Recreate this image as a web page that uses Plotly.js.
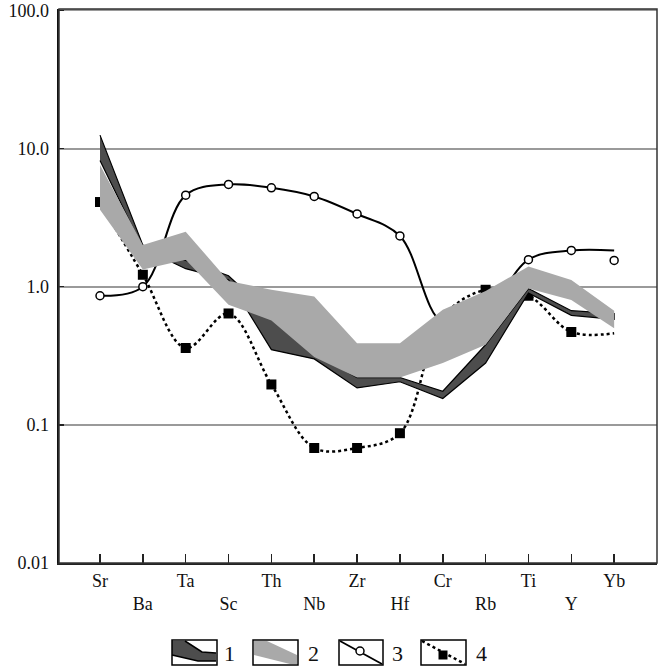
<!DOCTYPE html>
<html>
<head>
<meta charset="utf-8">
<script src="https://cdn.plot.ly/plotly-3.0.1.min.js"></script>
<style>html,body{margin:0;padding:0;background:#fff;}#chart{width:659px;height:668px;}</style>
</head>
<body>
<div id="chart"></div>
<script>
// Categories (x) and tick labels
const categories = ['Sr','Ba','Ta','Sc','Th','Nb','Zr','Hf','Cr','Rb','Ti','Y','Yb'];
const yTickVals = [0.01, 0.1, 1, 10, 100];
const yTickText = ['0.01', '0.1', '1.0', '10.0', '100.0'];

// Series 1: dark band (upper / lower bounds)
const band1Upper = [12.5, 2.0, 1.55, 1.2, 0.62, 0.33, 0.22, 0.22, 0.175, 0.38, 0.97, 0.67, 0.64];
const band1Lower = [8.2, 1.9, 1.35, 1.12, 0.35, 0.30, 0.185, 0.205, 0.155, 0.28, 0.90, 0.62, 0.58];

// Series 2: light band (upper / lower bounds)
const band2Upper = [7.6, 2.0, 2.5, 1.1, 0.95, 0.85, 0.39, 0.39, 0.68, 0.93, 1.4, 1.12, 0.67];
const band2Lower = [3.6, 1.33, 1.57, 0.74, 0.57, 0.31, 0.22, 0.22, 0.28, 0.38, 0.97, 0.80, 0.50];

// Series 3: open circles, smoothed solid line
const series3Line = [0.86, 1.0, 4.6, 5.5, 5.2, 4.5, 3.36, 2.33, 0.55, 0.65, 1.57, 1.83, 1.83];
const series3Points = [0.86, 1.0, 4.6, 5.5, 5.2, 4.5, 3.36, 2.33, null, null, 1.57, 1.83, 1.55];

// Series 4: filled squares, dotted smoothed line
const series4 = [4.1, 1.22, 0.36, 0.64, 0.196, 0.068, 0.068, 0.087, 0.6, 0.95, 0.86, 0.47, 0.46];
const series4MarkerShown = [1, 1, 1, 1, 1, 1, 1, 1, 0, 1, 1, 1, 0];

const idx = categories.map((c, i) => i);
const idxRev = idx.slice().reverse();
const FONT = "'Liberation Serif', 'Times New Roman', serif";

const traces = [
  { x: idx, y: series3Line, mode: 'lines', line: {color: '#000', width: 2, shape: 'spline', smoothing: 1}, hoverinfo: 'skip', showlegend: false },
  { x: idx, y: series3Points, mode: 'markers', marker: {symbol: 'circle', size: 8, color: '#fff', line: {color: '#000', width: 1.5}}, hoverinfo: 'skip', showlegend: false },
  { x: idx, y: series4, mode: 'lines+markers', line: {color: '#000', width: 2.5, dash: 'dot', shape: 'spline', smoothing: 1},
    marker: {symbol: 'square', size: 10, color: '#000', opacity: series4MarkerShown}, hoverinfo: 'skip', showlegend: false },
  { x: idx.concat(idxRev), y: band1Upper.concat(band1Lower.slice().reverse()), mode: 'lines', fill: 'toself',
    fillcolor: '#4d4d4d', line: {color: '#000', width: 1.2}, hoverinfo: 'skip', showlegend: false },
  { x: idx.concat(idxRev), y: band2Upper.concat(band2Lower.slice().reverse()), mode: 'lines', fill: 'toself',
    fillcolor: '#a9a9a9', line: {color: '#a9a9a9', width: 0}, hoverinfo: 'skip', showlegend: false }
];

// pixel -> paper helpers for the hand-made legend
const L = 59, T = 9, W = 598, H = 554;
const PX = x => (x - L) / W;
const PY = y => (T + H - y) / H;
const pathOf = pts => 'M' + pts.map(p => PX(p[0]).toFixed(4) + ',' + PY(p[1]).toFixed(4)).join('L') + 'Z';
const lineOf = pts => 'M' + pts.map(p => PX(p[0]).toFixed(4) + ',' + PY(p[1]).toFixed(4)).join('L');

const shapes = [
  // plot frame
  {type: 'rect', xref: 'paper', yref: 'paper', x0: 0, x1: 1, y0: 0, y1: 1, line: {color: '#333', width: 1.5}, layer: 'above'},
  // legend item 1
  {type: 'path', xref: 'paper', yref: 'paper', path: pathOf([[172,641],[185,641],[202,652],[216,653],[216,661],[198,661],[172,655]]), fillcolor: '#4d4d4d', line: {width: 0}},
  {type: 'path', xref: 'paper', yref: 'paper', path: lineOf([[185,641],[202,652],[216,653]]), line: {color: '#000', width: 1.5}},
  {type: 'path', xref: 'paper', yref: 'paper', path: lineOf([[172,655],[198,661],[216,661]]), line: {color: '#000', width: 1.5}},
  {type: 'rect', xref: 'paper', yref: 'paper', x0: PX(172), x1: PX(217), y0: PY(665), y1: PY(640), line: {color: '#000', width: 1.5}},
  // legend item 2
  {type: 'path', xref: 'paper', yref: 'paper', path: pathOf([[254,641],[267,641],[297,655],[297,664],[290,664],[254,655]]), fillcolor: '#a9a9a9', line: {width: 0}},
  {type: 'rect', xref: 'paper', yref: 'paper', x0: PX(253), x1: PX(298), y0: PY(665), y1: PY(640), line: {color: '#000', width: 1.5}},
  // legend item 3
  {type: 'path', xref: 'paper', yref: 'paper', path: lineOf([[340,641],[382,664]]), line: {color: '#000', width: 1.8}},
  {type: 'circle', xref: 'paper', yref: 'paper', x0: PX(356), x1: PX(364), y0: PY(655), y1: PY(647), fillcolor: '#fff', line: {color: '#000', width: 1.5}},
  {type: 'rect', xref: 'paper', yref: 'paper', x0: PX(339), x1: PX(383), y0: PY(665), y1: PY(640), line: {color: '#000', width: 1.5}},
  // legend item 4
  {type: 'path', xref: 'paper', yref: 'paper', path: lineOf([[422,641],[465,664]]), line: {color: '#000', width: 2.5, dash: 'dot'}},
  {type: 'rect', xref: 'paper', yref: 'paper', x0: PX(438.5), x1: PX(447.5), y0: PY(659.5), y1: PY(650.5), fillcolor: '#000', line: {color: '#000', width: 0}},
  {type: 'rect', xref: 'paper', yref: 'paper', x0: PX(421), x1: PX(466), y0: PY(665), y1: PY(640), line: {color: '#000', width: 1.5}}
];

const legendLabels = ['1', '2', '3', '4'];
const legendLabelX = [230, 313, 397, 481];
const annotations = legendLabels.map((t, i) => ({
  text: t, xref: 'paper', yref: 'paper', x: PX(legendLabelX[i]), y: PY(653), xanchor: 'center', yanchor: 'middle',
  showarrow: false, font: {family: FONT, size: 22, color: '#111'}
}));

const layout = {
  width: 659, height: 668,
  margin: {l: L, r: 659 - L - W, t: T, b: 668 - T - H, pad: 0},
  paper_bgcolor: '#fff', plot_bgcolor: '#fff',
  showlegend: false,
  font: {family: FONT, size: 18, color: '#111'},
  xaxis: {
    range: [-0.957, 13.0], tickmode: 'array', tickvals: idx,
    ticktext: categories.map((c, i) => i % 2 ? '<br>' + c : c),
    ticks: 'inside', ticklen: 9, tickwidth: 1.5, tickcolor: '#222',
    showline: true, linecolor: '#222', linewidth: 2, showgrid: false, zeroline: false,
    tickfont: {family: FONT, size: 18, color: '#111'}, fixedrange: true
  },
  yaxis: {
    type: 'log', range: [-2, 2.01], tickmode: 'array', tickvals: yTickVals, ticktext: yTickText,
    ticks: 'inside', ticklen: 5, tickwidth: 1.5, tickcolor: '#222',
    showline: true, linecolor: '#111', linewidth: 2.5, showgrid: true, gridcolor: '#9a9a9a', gridwidth: 2,
    zeroline: false, ticklabelstandoff: 4, ticklabeloverflow: 'allow',
    tickfont: {family: FONT, size: 18, color: '#111'}, fixedrange: true
  },
  shapes: shapes,
  annotations: annotations
};

Plotly.newPlot('chart', traces, layout, {staticPlot: true, displayModeBar: false});
</script>
</body>
</html>
